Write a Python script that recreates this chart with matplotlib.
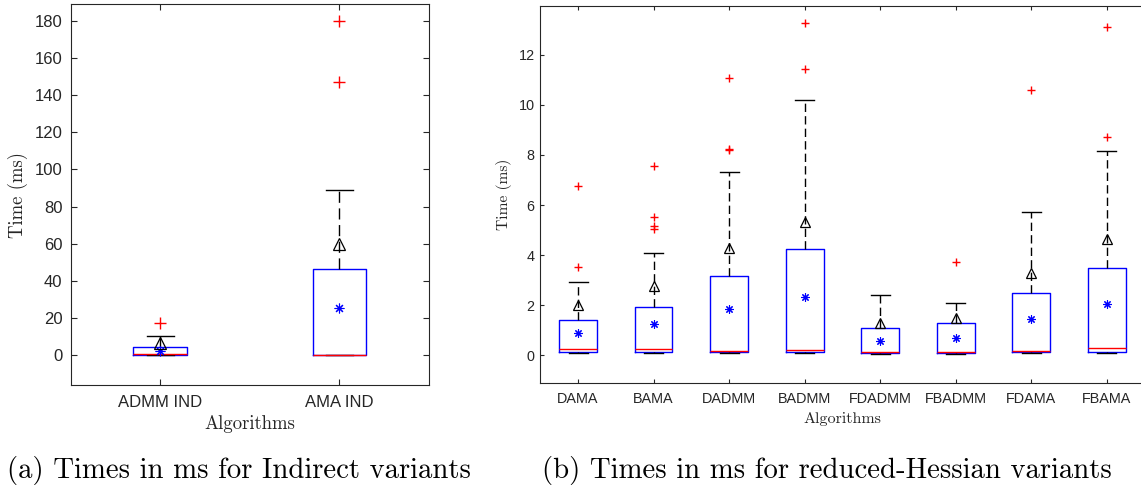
import matplotlib
matplotlib.use("Agg")
import matplotlib.pyplot as plt

# ---------------- data ----------------
left_labels = ['ADMM IND', 'AMA IND']
left_q1 = [0.3, 0.3]
left_med = [0.5, 0.3]
left_q3 = [4.6, 46.3]
left_whislo = [0.2, 0.2]
left_whishi = [10.5, 88.7]
left_mean = [2.5, 25.4]
left_tri = [6.5, 59.9]
left_fliers = [[17.4], [146.8, 180.0]]

right_labels = ['DAMA', 'BAMA', 'DADMM', 'BADMM', 'FDADMM', 'FBADMM', 'FDAMA', 'FBAMA']
right_q1 = [0.12, 0.12, 0.12, 0.12, 0.10, 0.10, 0.12, 0.12]
right_med = [0.24, 0.24, 0.17, 0.21, 0.14, 0.14, 0.18, 0.28]
right_q3 = [1.41, 1.92, 3.15, 4.23, 1.08, 1.30, 2.50, 3.47]
right_whislo = [0.08, 0.08, 0.08, 0.08, 0.07, 0.07, 0.08, 0.08]
right_whishi = [2.91, 4.07, 7.33, 10.19, 2.41, 2.10, 5.71, 8.14]
right_mean = [0.90, 1.24, 1.86, 2.34, 0.58, 0.69, 1.44, 2.04]
right_tri = [2.00, 2.77, 4.27, 5.31, 1.28, 1.50, 3.27, 4.64]
right_fliers = [[3.54, 6.76], [5.05, 5.15, 5.53, 7.57], [8.21, 8.25, 11.08],
                [11.44, 13.28], [], [3.74], [10.59], [8.70, 13.12]]

left_yticks = [0, 20, 40, 60, 80, 100, 120, 140, 160, 180]
right_yticks = [0, 2, 4, 6, 8, 10, 12]

# ---------------- style ----------------
W, H = 1141, 488
fig = plt.figure(figsize=(W / 100, H / 100), dpi=100)
AXC = '#262626'
SANS = 'Liberation Sans'
SERIF = 'cmr10'


def stats(labels, q1, med, q3, lo, hi, fl):
    out = []
    for i in range(len(labels)):
        out.append(dict(label=labels[i], q1=q1[i], med=med[i], q3=q3[i],
                        whislo=lo[i], whishi=hi[i], fliers=fl[i]))
    return out


def draw(ax, st, means, tris, width, capw, dash, fs_tick, ms_plus, ms_star, ms_tri):
    pos = list(range(1, len(st) + 1))
    ax.bxp(st, positions=pos, widths=width, capwidths=capw, showfliers=True,
           boxprops=dict(color='#0000ff', linewidth=1.0),
           medianprops=dict(color='#ff0000', linewidth=1.0),
           whiskerprops=dict(color='black', linewidth=1.0, linestyle=(0, dash)),
           capprops=dict(color='black', linewidth=1.0),
           flierprops=dict(marker='+', markeredgecolor='#ff0000', markersize=ms_plus,
                           markeredgewidth=1.0, linestyle='none'))
    ax.plot(pos, means, linestyle='none', marker=(8, 2, 0), color='#0000ff',
            markersize=ms_star, markeredgewidth=0.8, zorder=4)
    ax.plot(pos, tris, linestyle='none', marker='^', markerfacecolor='none',
            markeredgecolor='black', markersize=ms_tri, markeredgewidth=0.9, zorder=4)
    ax.set_xlim(0.5, len(st) + 0.5)
    for s in ax.spines.values():
        s.set_color(AXC)
        s.set_linewidth(0.8)
    ax.tick_params(direction='in', top=True, right=True, color=AXC,
                   labelcolor=AXC, width=0.8)
    for lab in ax.get_xticklabels() + ax.get_yticklabels():
        lab.set_fontfamily(SANS)
        lab.set_fontsize(fs_tick)


# ---------------- left ----------------
axL = fig.add_axes([70.7 / W, 1 - 385 / H, (429 - 70.7) / W, (385 - 4) / H])
draw(axL, stats(left_labels, left_q1, left_med, left_q3, left_whislo, left_whishi, left_fliers),
     left_mean, left_tri, 0.3, 0.15, (8, 4), 12, 8, 7, 8)
axL.set_ylim(-16, 189)
axL.set_yticks(left_yticks)
axL.set_yticklabels([str(v) for v in left_yticks], fontfamily=SANS, fontsize=12)
axL.tick_params(axis='y', pad=6, length=4)
axL.tick_params(axis='x', pad=7, length=4)
axL.set_ylabel('Time (ms)', fontfamily=SERIF, fontsize=13.5, color=AXC)
axL.set_xlabel('Algorithms', fontfamily=SERIF, fontsize=13.5, color=AXC)
axL.yaxis.set_label_coords(-0.12, 0.5)
axL.xaxis.set_label_coords(0.5, -0.08)

# ---------------- right ----------------
axR = fig.add_axes([540.3 / W, 1 - 383.3 / H, (1144.5 - 540.3) / W, (383.3 - 5.7) / H])
draw(axR, stats(right_labels, right_q1, right_med, right_q3, right_whislo, right_whishi, right_fliers),
     right_mean, right_tri, 0.5, 0.25, (6, 3), 10.4, 6, 6, 7.5)
axR.set_ylim(-1.12, 13.96)
axR.set_yticks(right_yticks)
axR.set_yticklabels([str(v) for v in right_yticks], fontfamily=SANS, fontsize=10.4)
axR.tick_params(axis='y', pad=4, length=3)
axR.tick_params(axis='x', pad=6, length=3)
axR.set_ylabel('Time (ms)', fontfamily=SERIF, fontsize=11.2, color=AXC)
axR.set_xlabel('Algorithms', fontfamily=SERIF, fontsize=11.5, color=AXC)
axR.yaxis.set_label_coords(-0.047, 0.5)
axR.xaxis.set_label_coords(0.5, -0.076)

# ---------------- captions ----------------
fig.text(239 / W, 1 - 478 / H, '(a) Times in ms for Indirect variants',
         fontfamily=SERIF, fontsize=20.7, ha='center', va='baseline')
fig.text(827 / W, 1 - 478 / H, '(b) Times in ms for reduced-Hessian variants',
         fontfamily=SERIF, fontsize=20.7, ha='center', va='baseline')

fig.savefig('out.png', dpi=100)
